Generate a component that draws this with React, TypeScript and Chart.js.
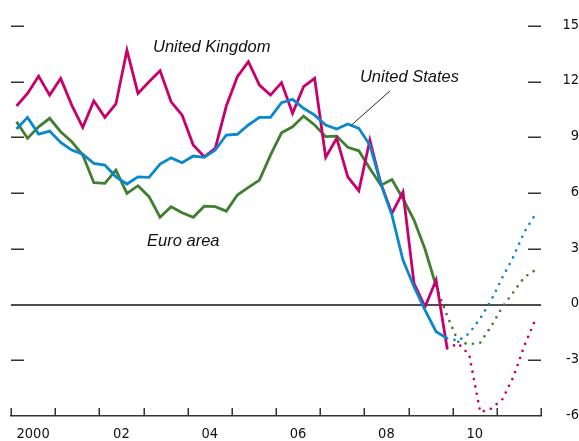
import React, { useEffect, useRef } from 'react';
import { Chart, registerables } from 'chart.js';

Chart.register(...registerables);

// ---- Data (quarterly, starting 2000Q1) ----
const startYear = 2000;
const labelYears = [2000, 2002, 2004, 2006, 2008, 2010];
const xTickLabels = ['2000', '02', '04', '06', '08', '10'];
const yTickValues = [-6, -3, 0, 3, 6, 9, 12, 15];
const yDashValues = [-3, 3, 6, 9, 12, 15];

// United Kingdom, 2000Q1–2009Q4 (actual)
const ukActual = [
  10.69, 11.37, 12.3, 11.28, 12.18, 10.74, 9.54, 10.97, 10.08, 10.8,
  13.7, 11.37, 12.0, 12.59, 10.92, 10.2, 8.59, 7.96, 8.41, 10.69,
  12.27, 13.08, 11.82, 11.28, 11.95, 10.3, 11.73, 12.18, 7.93, 8.95,
  6.88, 6.13, 8.86, 6.5, 4.91, 6.07, 1.14, -0.12, 1.32, -2.36,
];
// United Kingdom, 2009Q4–2011Q4 (projection)
const ukProjection = [-2.36, -2.1, -2.7, -5.8, -5.6, -5.1, -3.9, -2.2, -0.8];

// United States, 2000Q1–2009Q4 (actual)
const usActual = [
  9.45, 10.08, 9.18, 9.34, 8.73, 8.32, 8.1, 7.6, 7.51, 6.88,
  6.49, 6.88, 6.85, 7.57, 7.9, 7.64, 8.0, 7.93, 8.32, 9.13,
  9.17, 9.67, 10.08, 10.08, 10.87, 11.05, 10.57, 10.2, 9.67, 9.45,
  9.72, 9.49, 8.59, 6.5, 4.82, 2.4, 0.96, -0.3, -1.46, -1.82,
];
// United States, 2009Q4–2011Q4 (projection)
const usProjection = [-1.82, -1.95, -1.55, -0.74, 0.24, 1.46, 2.57, 3.92, 4.86];

// Euro area, 2000Q1–2009Q3 (actual)
const euroActual = [
  9.84, 8.95, 9.57, 10.03, 9.31, 8.77, 8.05, 6.56, 6.53, 7.24,
  5.99, 6.4, 5.81, 4.7, 5.27, 4.94, 4.7, 5.3, 5.27, 5.03,
  5.9, 6.31, 6.7, 8.05, 9.25, 9.57, 10.15, 9.67, 9.04, 9.07,
  8.47, 8.28, 7.33, 6.43, 6.73, 5.7, 4.55, 2.98, 1.0,
];
// Euro area, 2009Q3–2011Q4 (projection)
const euroProjection = [1.0, -0.6, -2.0, -2.14, -2.05, -1.16, -0.13, 0.67, 1.48, 1.86];

const seriesNames = ['United Kingdom', 'United States', 'Euro area'];

const UK_COLOR = '#c8006e';
const US_COLOR = '#0a88cc';
const EURO_COLOR = '#3f7f2f';
const AXIS_COLOR = '#333333';

const TICK_FONT = "'Liberation Sans Narrow', 'DejaVu Sans Condensed', 'Noto Sans', sans-serif";
const NOTE_FONT = "italic 16.5px 'Liberation Sans', Arial, sans-serif";

const quarterX = (i: number) => startYear + (i + 0.5) / 4;
const toPoints = (vals: number[], offset: number) =>
  vals.map((v, i) => ({ x: quarterX(i + offset), y: v }));

const decorPlugin = {
  id: 'decor',
  afterDraw(chart: any) {
    const { ctx, chartArea, scales } = chart;
    const xs = scales.x;
    const ys = scales.y;
    ctx.save();
    ctx.strokeStyle = AXIS_COLOR;
    ctx.lineWidth = 1.5;
    // Year tick marks pointing up from the axis
    for (let yr = startYear; yr <= 2012; yr++) {
      const px = Math.round(xs.getPixelForValue(yr)) + 0.25;
      ctx.beginPath();
      ctx.moveTo(px, chartArea.bottom);
      ctx.lineTo(px, chartArea.bottom - 8);
      ctx.stroke();
    }
    // Short dashes at the y ticks, both sides
    for (const v of yDashValues) {
      const py = Math.round(ys.getPixelForValue(v)) + 0.25;
      ctx.beginPath();
      ctx.moveTo(chartArea.left, py);
      ctx.lineTo(chartArea.left + 13, py);
      ctx.moveTo(chartArea.right - 13, py);
      ctx.lineTo(chartArea.right, py);
      ctx.stroke();
    }
    // Annotations
    ctx.fillStyle = '#111111';
    ctx.font = NOTE_FONT;
    ctx.textAlign = 'left';
    ctx.textBaseline = 'alphabetic';
    ctx.fillText(seriesNames[0], xs.getPixelForValue(2003.215), ys.getPixelForValue(13.62));
    ctx.fillText(seriesNames[1], xs.getPixelForValue(2007.9), ys.getPixelForValue(12.01));
    ctx.fillText(seriesNames[2], xs.getPixelForValue(2003.08), ys.getPixelForValue(3.15));
    // Leader line for United States
    ctx.strokeStyle = '#111111';
    ctx.lineWidth = 0.9;
    ctx.beginPath();
    ctx.moveTo(xs.getPixelForValue(2008.58), ys.getPixelForValue(11.5));
    ctx.lineTo(xs.getPixelForValue(2007.71), ys.getPixelForValue(9.67));
    ctx.stroke();
    ctx.restore();
  },
};

export default function App() {
  const canvasRef = useRef<HTMLCanvasElement | null>(null);

  useEffect(() => {
    if (!canvasRef.current) return;
    const solid = (data: any[], color: string, order: number) => ({
      data,
      borderColor: color,
      backgroundColor: color,
      borderWidth: 2.8,
      pointRadius: 0,
      tension: 0,
      borderJoinStyle: 'miter',
      order,
    });
    const dotted = (data: any[], color: string, order: number) => ({
      data,
      borderColor: color,
      backgroundColor: color,
      borderWidth: 2.7,
      borderDash: [0, 7.5],
      borderCapStyle: 'round',
      pointRadius: 0,
      tension: 0,
      order,
    });

    const chart = new Chart(canvasRef.current, {
      type: 'line',
      data: {
        datasets: [
          solid(toPoints(usActual, 0), US_COLOR, 0),
          solid(toPoints(ukActual, 0), UK_COLOR, 1),
          solid(toPoints(euroActual, 0), EURO_COLOR, 2),
          dotted(toPoints(usProjection, usActual.length - 1), US_COLOR, 3),
          dotted(toPoints(ukProjection, ukActual.length - 1), UK_COLOR, 4),
          dotted(toPoints(euroProjection, euroActual.length - 1), EURO_COLOR, 5),
        ] as any,
      },
      options: {
        animation: false,
        responsive: true,
        maintainAspectRatio: false,
        devicePixelRatio: 1,
        layout: { padding: { left: 11, right: 0, top: 0, bottom: 0 } },
        plugins: {
          legend: { display: false },
          tooltip: { enabled: false },
          title: { display: false },
        },
        scales: {
          x: {
            type: 'linear',
            position: 'bottom',
            min: 2000,
            max: 2012,
            afterBuildTicks: (axis: any) => {
              axis.ticks = labelYears.map((y) => ({ value: y + 0.5 }));
            },
            afterFit: (axis: any) => {
              axis.height = 25;
              axis.paddingLeft = 0;
              axis.paddingRight = 0;
            },
            grid: { display: false, drawTicks: false },
            border: { display: true, color: AXIS_COLOR, width: 1.5 },
            ticks: {
              autoSkip: false,
              maxRotation: 0,
              padding: 10,
              color: '#111111',
              font: { family: TICK_FONT, size: 14.5 },
              callback: (_v: any, i: number) => xTickLabels[i],
            },
          },
          y: {
            type: 'linear',
            position: 'right',
            min: -6,
            max: 16.4,
            afterBuildTicks: (axis: any) => {
              axis.ticks = yTickValues.map((v) => ({ value: v }));
            },
            afterFit: (axis: any) => {
              axis.width = 38;
              axis.paddingTop = 0;
              axis.paddingBottom = 0;
            },
            grid: {
              drawTicks: false,
              color: (c: any) => (c.tick && c.tick.value === 0 ? '#4d4d4d' : 'rgba(0,0,0,0)'),
              lineWidth: (c: any) => (c.tick && c.tick.value === 0 ? 2 : 0),
            },
            border: { display: false },
            ticks: {
              crossAlign: 'far',
              padding: 22,
              labelOffset: -1,
              color: '#111111',
              font: { family: TICK_FONT, size: 14.5 },
              callback: (v: any) => String(v),
            },
          },
        },
      } as any,
      plugins: [decorPlugin],
    });
    return () => chart.destroy();
  }, []);

  return (
    <div style={{ position: 'absolute', left: 0, top: 0, width: 579, height: 441 }}>
      <canvas ref={canvasRef} />
    </div>
  );
}
